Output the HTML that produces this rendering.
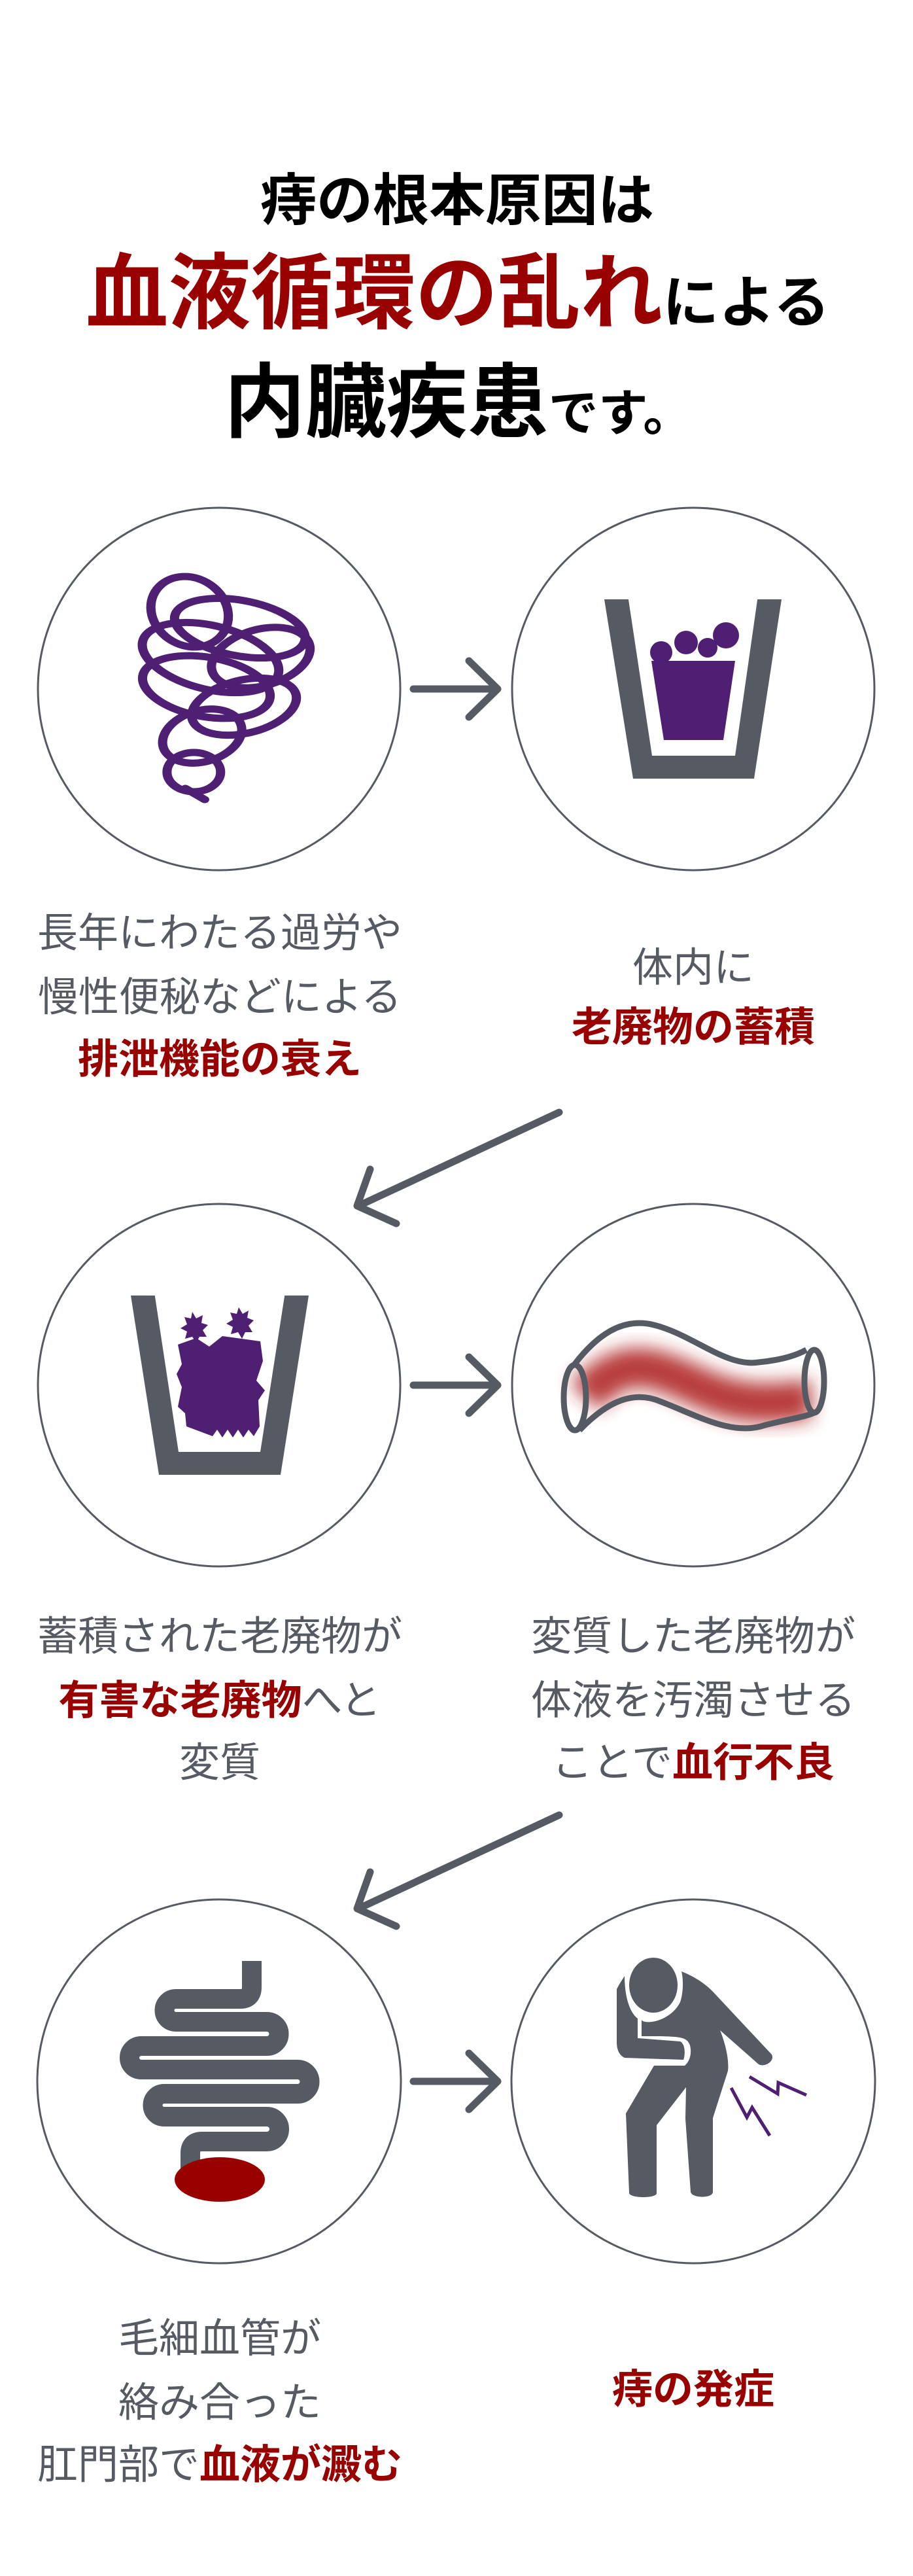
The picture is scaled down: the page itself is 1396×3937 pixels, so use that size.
<!DOCTYPE html>
<html><head><meta charset="utf-8">
<style>
html,body{margin:0;padding:0;background:#fff;}
body{width:1396px;height:3937px;position:relative;overflow:hidden;font-family:"Liberation Sans","Noto Sans CJK JP",sans-serif;}
.t{position:absolute;white-space:nowrap;transform:translateX(-50%);color:#555a63;}
.r{color:#990000;font-weight:bold;}
.k{color:#000;font-weight:bold;}
svg{position:absolute;left:0;top:0;}
</style></head><body>
<svg width="1396" height="3937" viewBox="0 0 1396 3937">
<defs><filter id="bl" x="-30%" y="-100%" width="160%" height="300%"><feGaussianBlur stdDeviation="14"/></filter></defs>
<g fill="none" stroke="#555a63" stroke-width="3">
<circle cx="335" cy="1053" r="277"/><circle cx="1060" cy="1053" r="277"/>
<circle cx="335" cy="2117" r="277"/><circle cx="1060" cy="2117" r="277"/>
<circle cx="335" cy="3181" r="278"/><circle cx="1060" cy="3181" r="278"/>
</g>
<g fill="none" stroke="#555a63" stroke-width="11" stroke-linecap="round" stroke-linejoin="round">
<path d="M632 1053H761M717 1010L761 1053L717 1096"/>
<path d="M632 2117H761M717 2074L761 2117L717 2160"/>
<path d="M632 3181H761M717 3138L761 3181L717 3224"/>
<path d="M855 1700L548 1843M566 1787L546 1843L606 1870"/>
<path d="M855 2774L548 2917M566 2861L546 2917L606 2944"/>
</g>
<!-- swirl -->
<g fill="none" stroke="#4f1f73" stroke-width="11" stroke-linecap="round" transform="translate(336 0) scale(1.28 1) translate(-336 0)">
<ellipse cx="300" cy="935" rx="45" ry="55" transform="rotate(-20 300 935)"/>
<ellipse cx="360" cy="960" rx="80" ry="42" transform="rotate(15 360 960)"/>
<ellipse cx="325" cy="1005" rx="85" ry="48" transform="rotate(20 325 1005)"/>
<ellipse cx="385" cy="1005" rx="62" ry="42" transform="rotate(-25 385 1005)"/>
<ellipse cx="320" cy="1050" rx="78" ry="45" transform="rotate(15 320 1050)"/>
<ellipse cx="365" cy="1080" rx="65" ry="40" transform="rotate(-20 365 1080)"/>
<ellipse cx="315" cy="1125" rx="50" ry="38" transform="rotate(-30 315 1125)"/>
<ellipse cx="305" cy="1180" rx="32" ry="30"/>
<path d="M295 1205L318 1222"/>
</g>
<!-- cup 1 -->
<polygon points="924,916 1195,916 1153,1190 968,1190" fill="#555a63"/>
<polygon points="960,910 1159,910 1124,1155 997,1155" fill="#fff"/>
<polygon points="996,1010 1124,1010 1106,1131 1015,1131" fill="#4f1f73"/>
<g fill="#4f1f73"><circle cx="1011" cy="997" r="17"/><circle cx="1049" cy="982" r="18"/><circle cx="1082" cy="990" r="15"/><circle cx="1110" cy="971" r="20"/></g>
<!-- cup 2 -->
<polygon points="200,1980 472,1980 429,2254 243,2254" fill="#555a63"/>
<polygon points="236,1975 436,1975 398,2219 273,2219" fill="#fff"/>
<g fill="#4f1f73">
<polygon points="294,2005 300,2015 310,2010 308,2022 318,2025 310,2033 316,2043 305,2043 300,2052 294,2043 283,2046 286,2035 276,2030 286,2024 282,2013 292,2015"/>
<polygon points="365,1998 371,2008 380,2003 378,2014 388,2018 380,2026 386,2036 375,2036 370,2046 364,2036 353,2039 356,2028 346,2023 356,2017 352,2006 362,2008"/>
<polygon points="272,2055 300,2045 320,2058 340,2042 362,2045 398,2050 402,2080 392,2110 405,2125 395,2140 397,2180 388,2195 380,2185 372,2197 364,2185 356,2197 348,2185 340,2197 332,2185 325,2195 285,2180 283,2160 272,2150 278,2120 270,2100 278,2085"/>
</g>
<!-- tube -->
<path d="M895 2135C960 2060 1010 2095 1080 2125C1150 2155 1200 2140 1240 2140" fill="none" stroke="#b02828" stroke-width="60" filter="url(#bl)" opacity="0.9"/>
<g fill="none" stroke="#555a63" stroke-width="9" stroke-linejoin="round">
<path d="M877 2087C920 2030 960 2015 1000 2025C1060 2040 1110 2090 1160 2082C1200 2078 1220 2070 1233 2063"/>
<path d="M886 2186C930 2140 970 2125 1010 2142C1070 2165 1120 2195 1170 2178C1210 2168 1235 2165 1247 2158"/>
<ellipse cx="879" cy="2136" rx="17" ry="50"/>
<ellipse cx="1245" cy="2111" rx="15" ry="48"/>
</g>
<!-- intestine -->
<path d="M385 2997V3037Q385 3055 367 3055H269A17.5 17.5 0 0 0 269 3090H408A18.5 18.5 0 0 1 408 3127H216A18 18 0 0 0 216 3163H455A18.5 18.5 0 0 1 455 3200H251A17.5 17.5 0 0 0 251 3235H408A19 19 0 0 1 408 3273H309Q291 3273 291 3291V3320" fill="none" stroke="#555a63" stroke-width="30"/>
<ellipse cx="336" cy="3331" rx="69" ry="34" fill="#990000"/>
<!-- person -->
<g fill="#555a63">
<ellipse cx="999" cy="3034" rx="37" ry="42"/>
<path d="M1042 3013C1065 3022 1082 3035 1091 3045L1180 3140C1185 3150 1170 3160 1160 3155L1101 3103C1110 3125 1115 3150 1113 3165L1090 3237V3350C1090 3360 1058 3360 1056 3350L1048 3238L1049 3190L1004 3248V3352C1004 3360 964 3360 962 3352L957 3230L1000 3157H1047C1055 3150 1058 3138 1055 3126C1050 3112 1040 3112 981 3112V3087C985 3095 1025 3090 1040 3060C1045 3045 1045 3025 1042 3013Z"/>
<path d="M943 3040C948 3030 952 3025 955 3020C955 3050 962 3075 975 3085V3115L1040 3120C1048 3124 1048 3140 1045 3148L955 3145C945 3140 943 3130 943 3120Z"/>
</g>
<g fill="none" stroke="#4f1f73" stroke-width="5">
<polyline points="1146,3174 1189,3200 1190,3183 1233,3202"/>
<polyline points="1118,3191 1142,3236 1150,3221 1177,3264"/>
</g>
</svg>

<div class="t k" style="left:699px;top:264px;font-size:86px;line-height:86px;">痔の根本原因は</div>
<div class="t" style="left:700px;top:384px;line-height:130px;"><span class="r" style="font-size:126px;">血液循環の乱れ</span><span class="k" style="font-size:86px;">による</span></div>
<div class="t" style="left:701px;top:553px;line-height:126px;"><span class="k" style="font-size:124px;">内臓疾患</span><span class="k" style="font-size:76px;">です。</span></div>

<div class="t" style="left:336px;top:1396px;font-size:62px;line-height:62px;">長年にわたる過労や</div>
<div class="t" style="left:336px;top:1494px;font-size:62px;line-height:62px;">慢性便秘などによる</div>
<div class="t r" style="left:336px;top:1589px;font-size:62px;line-height:62px;">排泄機能の衰え</div>
<div class="t" style="left:1060px;top:1449px;font-size:62px;line-height:62px;">体内に</div>
<div class="t r" style="left:1060px;top:1540px;font-size:62px;line-height:62px;">老廃物の蓄積</div>

<div class="t" style="left:336px;top:2471px;font-size:62px;line-height:62px;">蓄積された老廃物が</div>
<div class="t" style="left:336px;top:2569px;font-size:62px;line-height:62px;"><span class="r">有害な老廃物</span>へと</div>
<div class="t" style="left:336px;top:2664px;font-size:62px;line-height:62px;">変質</div>
<div class="t" style="left:1060px;top:2471px;font-size:62px;line-height:62px;">変質した老廃物が</div>
<div class="t" style="left:1060px;top:2569px;font-size:62px;line-height:62px;">体液を汚濁させる</div>
<div class="t" style="left:1060px;top:2664px;font-size:62px;line-height:62px;">ことで<span class="r">血行不良</span></div>

<div class="t" style="left:336px;top:3544px;font-size:62px;line-height:62px;">毛細血管が</div>
<div class="t" style="left:336px;top:3642px;font-size:62px;line-height:62px;">絡み合った</div>
<div class="t" style="left:336px;top:3737px;font-size:62px;line-height:62px;">肛門部で<span class="r">血液が澱む</span></div>
<div class="t r" style="left:1060px;top:3622px;font-size:62px;line-height:62px;">痔の発症</div>
</body></html>
